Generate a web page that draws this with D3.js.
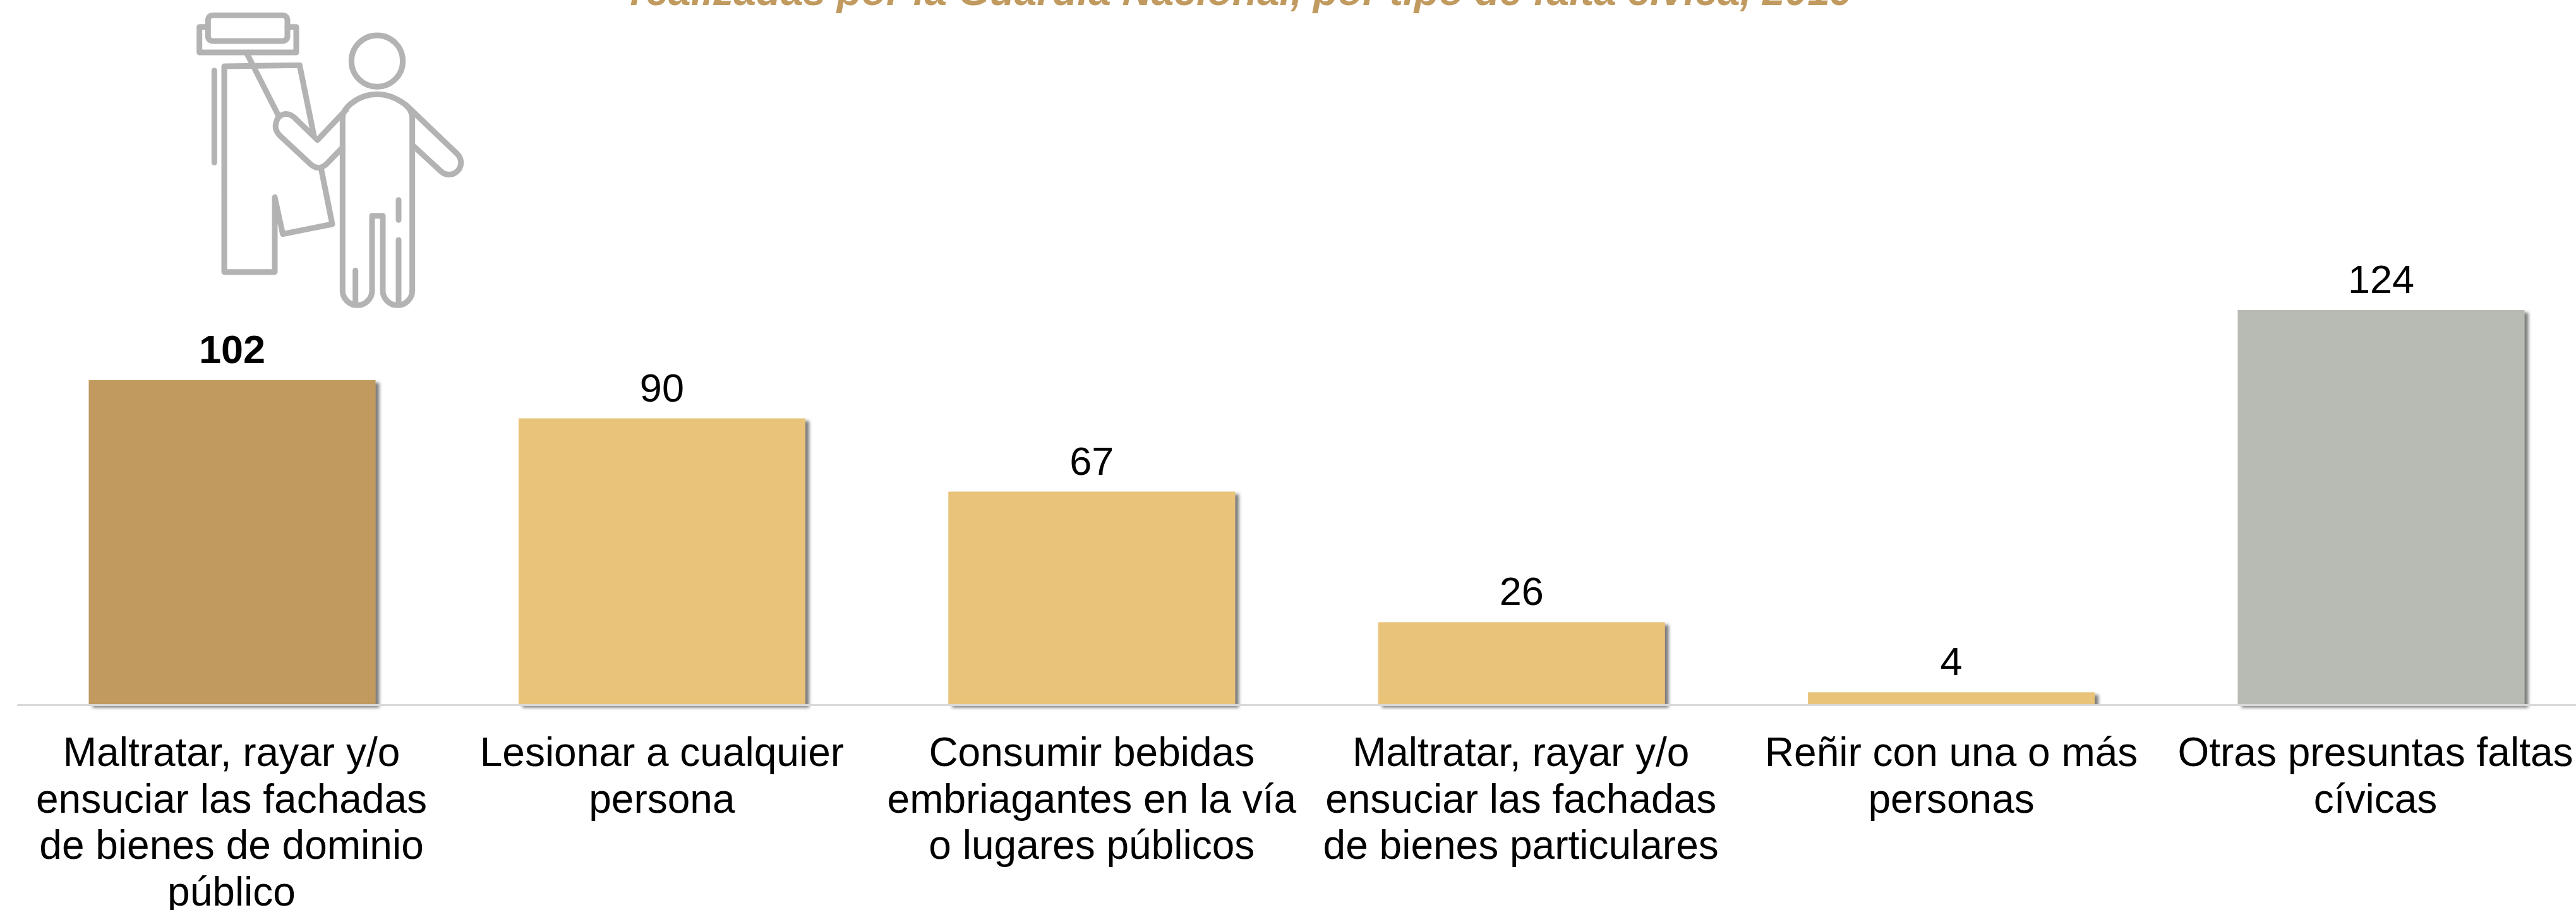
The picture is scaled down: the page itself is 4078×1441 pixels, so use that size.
<!DOCTYPE html>
<html lang="es">
<head>
<meta charset="utf-8">
<script src="https://cdn.jsdelivr.net/npm/d3@7/dist/d3.min.js"></script>
<style>
html,body{margin:0;padding:0;background:#fff;overflow:hidden}
svg{display:block}
text{font-family:"Liberation Sans",Arial,sans-serif;fill:#000}
</style>
</head>
<body>
<svg id="chart" width="4078" height="1441"></svg>
<script>
const titleText = "realizadas por la Guardia Nacional, por tipo de falta cívica, 2019";
const categories = ["c1","c2","c3","c4","c5","c6"];
const categoryLines = [
  ["Maltratar, rayar y/o","ensuciar las fachadas","de bienes de dominio","público"],
  ["Lesionar a cualquier","persona"],
  ["Consumir bebidas","embriagantes en la vía","o lugares públicos"],
  ["Maltratar, rayar y/o","ensuciar las fachadas","de bienes particulares"],
  ["Reñir con una o más","personas"],
  ["Otras presuntas faltas","cívicas"]
];
const labelShift = [-1,0,0,-1,0,-9];
const values = [102,90,67,26,4,124];
const barColors = ["#C19A5F","#E9C37A","#E9C37A","#E9C37A","#E9C37A","#B7BBB4"];
const boldFlags = [true,false,false,false,false,false];

const svg = d3.select("#chart");
const defs = svg.append("defs");
const f = defs.append("filter").attr("id","shadow").attr("x","-5%").attr("y","-5%").attr("width","110%").attr("height","110%");
f.append("feDropShadow").attr("dx",6).attr("dy",4).attr("stdDeviation",2.5).attr("flood-color","#666666").attr("flood-opacity",0.85);

const x = d3.scaleBand().domain(categories).range([27.3,4109.7]).paddingInner(0.3327).paddingOuter(0.16635);
const y = d3.scaleLinear().domain([0,124]).range([1116.5,491]);

// title
svg.append("text").attr("x",1965).attr("y",8).attr("text-anchor","middle")
  .style("font-size","64px").style("font-weight","bold").style("font-style","italic").style("fill","#C19A5F")
  .text(titleText);

// bars
svg.append("g").selectAll("rect").data(categories).join("rect")
  .attr("x",d=>x(d)).attr("width",x.bandwidth())
  .attr("y",(d,i)=>y(values[i])).attr("height",(d,i)=>y(0)-y(values[i]))
  .attr("fill",(d,i)=>barColors[i]).attr("filter","url(#shadow)");

// axis
const axis = d3.axisBottom(x).tickSize(0).tickPadding(0).tickFormat("");
const gx = svg.append("g").attr("transform",`translate(0,${y(0)})`).call(axis);
gx.select(".domain").attr("stroke","#D9D9D9").attr("stroke-width",3).attr("d","M27.3,0H4078");
gx.selectAll(".tick text").remove();
gx.selectAll(".tick").each(function(d,i){
  const t = d3.select(this).append("text").attr("text-anchor","middle").style("font-size","64px");
  t.selectAll("tspan").data(categoryLines[i]).join("tspan")
    .attr("x",labelShift[i]).attr("y",(l,j)=>96.5+j*73.6).text(l=>l);
});

// value labels
svg.append("g").selectAll("text").data(categories).join("text")
  .attr("x",d=>x(d)+x.bandwidth()/2).attr("y",(d,i)=>y(values[i])-27)
  .attr("text-anchor","middle").style("font-size","63px")
  .style("font-weight",(d,i)=>boldFlags[i]?"bold":"normal")
  .text((d,i)=>values[i]);

// icon (decorative pictogram)
const icon = svg.append("g").attr("transform","translate(280,0) scale(0.33333)")
  .attr("fill","none").attr("stroke","#B3B3B3").attr("stroke-width",27)
  .attr("stroke-linecap","round").attr("stroke-linejoin","round");
const iconPaths = [
  "M148,128H107V249H567V128H525",
  "M173,73H500Q525,73 525,98V170Q525,195 500,195H173Q148,195 148,170V98Q148,73 173,73Z",
  "M333,255L482,548",
  "M650,640L583,310L225,315V1292H465V937L503,1112L738,1065L685,800",
  "M178,335V772",
  "M787,1380V560Q787,525 830,490Q885,448 951,448Q1020,448 1085,497Q1118,525 1118,560V1380A70,70 0 0 1 978,1380V1025H927V1380A70,70 0 0 1 787,1380",
  "M1090,500L1330,730A45,45 0 0 1 1255,815L1120,690",
  "M805,520L668,665L560,560C520,525 480,545 472,580C462,610 475,630 490,645L635,780C665,805 685,800 710,780L787,700",
  "M848,1285V1442",
  "M1053,1140V1442",
  "M1053,950V1045"
];
icon.selectAll("path").data(iconPaths).join("path").attr("d",d=>d);
icon.append("circle").attr("cx",951).attr("cy",290).attr("r",122);
</script>
</body>
</html>
